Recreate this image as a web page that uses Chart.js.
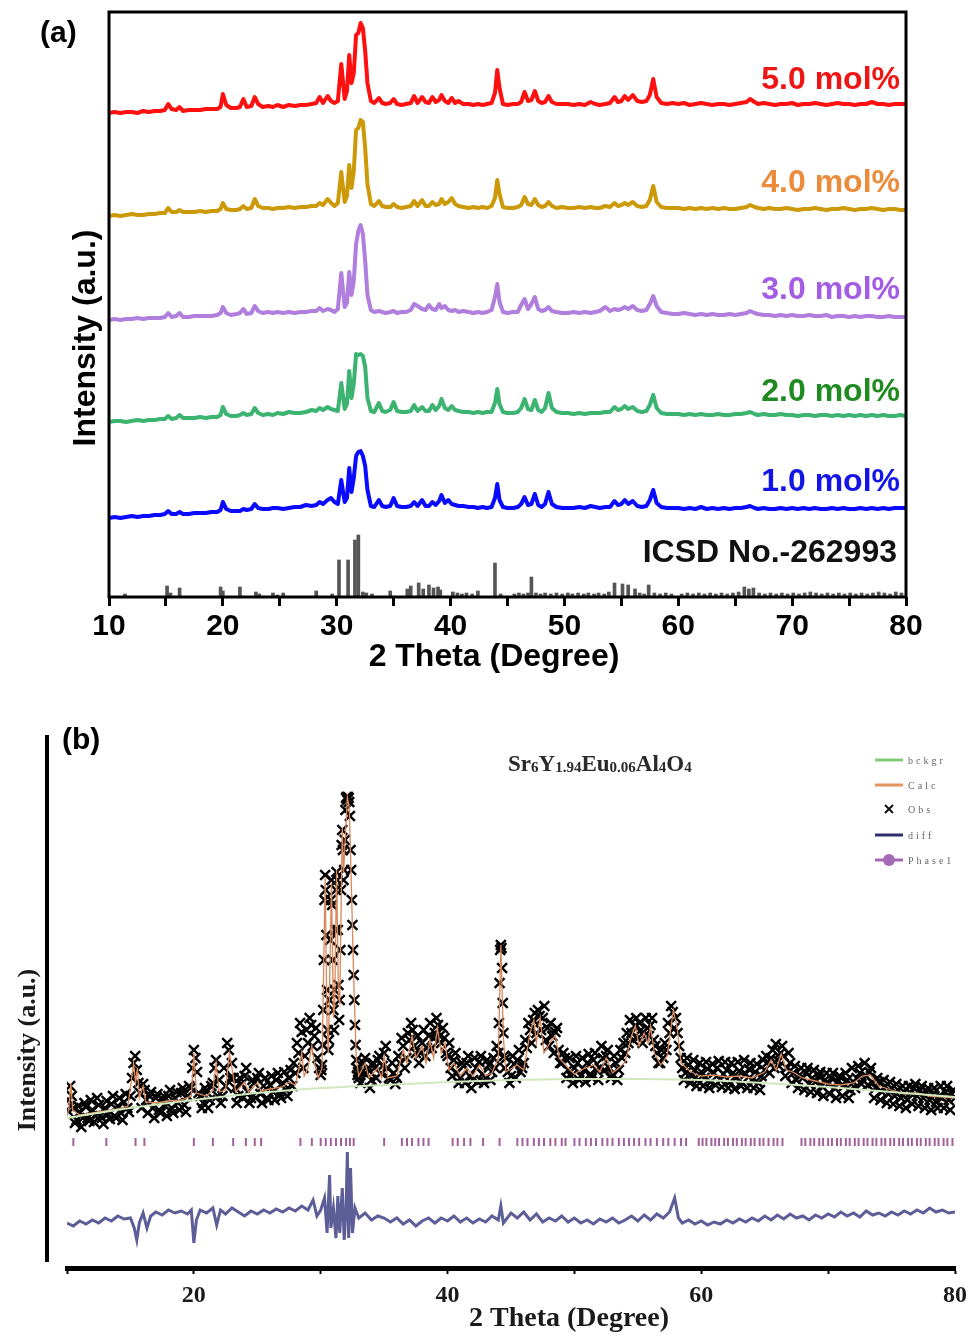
<!DOCTYPE html>
<html>
<head>
<meta charset="utf-8">
<script src="https://cdn.jsdelivr.net/npm/chart.js@4.4.1/dist/chart.umd.min.js"></script>
<style>
  html, body { margin: 0; padding: 0; background: #fff; }
  #page { position: relative; width: 978px; height: 1336px; overflow: hidden; }
  #page canvas { position: absolute; left: 0; }
  .tag { position: absolute; font: bold 30px 'Liberation Sans', Arial, sans-serif; color: #000; }
  .formula { position: absolute; left: 508px; top: 751px; font: bold 23px 'Liberation Serif', 'Times New Roman', serif; color: #2a2a2a; }
  .formula sub { font-size: 15px; vertical-align: -1px; }
</style>
</head>
<body>
<div id="page">
  <canvas id="xrd" width="978" height="690" style="top:0"></canvas>
  <canvas id="rietveld" width="978" height="646" style="top:690px"></canvas>
  <div class="tag" style="left:40px;top:15px">(a)</div>
  <div class="tag" style="left:62px;top:722px">(b)</div>
  <div class="formula">Sr<sub>6</sub>Y<sub>1.94</sub>Eu<sub>0.06</sub>Al<sub>4</sub>O<sub>4</sub></div>
</div>
<script>
// ---------- (a) XRD patterns of the Eu-doped series ----------
const twoTheta = [
  10,10.5,11,11.5,12,12.5,13,13.5,14,14.5,
  14.9,15.2,15.5,15.9,16.2,16.5,17,17.5,18,18.5,19,19.5,
  19.8,20.0,20.3,20.7,21.2,21.5,21.8,22.1,22.5,22.8,23.1,23.5,24,24.4,24.8,25.3,25.8,26.3,26.8,27.3,27.8,
  28.2,28.5,28.8,29.2,29.5,29.8,30.1,30.4,30.7,30.9,
  31.1,31.3,31.5,31.7,31.9,32.1,32.3,32.5,32.7,33.0,
  33.3,33.7,34.0,34.3,34.7,35.0,35.3,35.7,36.1,36.5,
  36.8,37.1,37.5,37.8,38.1,38.4,38.7,39.0,39.2,39.5,
  39.8,40.1,40.4,40.7,41.1,41.6,42.0,42.4,42.8,43.2,
  43.6,43.9,44.1,44.3,44.6,45.0,45.5,45.9,46.2,46.5,
  46.8,47.1,47.4,47.7,48.0,48.3,48.6,48.9,49.3,49.8,
  50.3,50.8,51.3,51.8,52.3,52.7,53.1,53.6,54.0,54.4,
  54.7,55.0,55.3,55.6,56.0,56.4,56.8,57.2,57.5,57.8,
  58.1,58.5,59.0,59.5,
  60,60.5,61,61.5,62,62.5,63,63.5,64,64.5,
  65,65.5,66,66.3,66.7,67,67.5,68,68.5,69,
  69.5,70,70.5,71,71.5,72,72.5,73,73.5,74,
  74.5,75,75.5,76,76.5,77,77.5,78,78.5,79,
  79.5,80
];

const mol1 = [
  0,1,0,1,2,1,2,2,3,3,
  4,7,4,4,6,4,4,5,5,5,6,6,
  8,16,9,7,7,7,9,8,9,14,10,9,9,10,10,9,10,11,11,13,12,
  13,16,14,18,20,16,14,38,16,20,
  50,26,40,62,66,67,62,52,28,12,
  11,18,12,11,12,20,12,11,11,12,
  16,12,18,12,12,16,13,17,23,15,
  18,14,13,12,12,11,11,10,11,10,
  11,20,34,18,11,10,10,11,14,21,
  13,14,24,13,11,14,26,14,11,10,
  10,10,11,10,12,11,10,11,11,17,
  13,14,18,14,17,12,11,12,18,28,
  15,11,10,10,
  10,9,10,9,11,9,10,9,10,9,
  10,10,11,12,10,9,10,9,9,10,
  9,10,9,10,9,10,9,9,10,9,
  10,9,9,10,9,10,9,10,9,10,
  10,10
];

const mol2 = [
  0,1,1,0,1,2,1,2,2,3,
  3,6,3,4,7,4,4,4,5,4,5,5,
  7,15,8,6,6,7,9,7,8,14,9,7,8,7,9,8,10,9,9,10,12,
  11,14,12,15,13,12,11,39,13,18,
  51,24,38,68,67,68,66,55,24,11,
  10,19,11,10,12,20,11,10,10,11,
  17,11,15,11,11,17,12,16,23,14,
  12,16,12,11,10,10,9,10,9,10,
  10,19,33,18,10,9,9,10,14,23,
  13,12,22,12,10,14,29,14,10,9,
  9,8,9,8,9,9,9,10,10,15,
  12,13,16,13,15,11,10,11,17,27,
  14,9,8,8,
  8,7,8,7,8,7,7,8,7,7,
  8,8,9,10,8,7,8,7,7,8,
  7,7,6,7,7,6,7,7,6,7,
  6,7,6,7,6,7,6,7,6,6,
  7,6
];

const mol3 = [
  1,2,1,2,2,3,2,3,3,3,
  4,8,4,5,8,4,4,5,5,5,5,6,
  8,14,8,6,7,8,12,7,8,15,10,8,9,8,9,8,9,8,9,9,10,
  10,13,10,12,11,9,12,48,14,18,
  49,26,40,77,90,96,87,60,26,11,
  9,10,9,8,9,10,8,9,9,11,
  17,15,12,11,16,12,11,17,13,15,
  11,10,11,9,10,9,8,9,8,9,
  11,24,37,19,9,8,9,9,16,22,
  12,17,24,12,10,11,14,10,9,8,
  8,9,8,9,8,9,10,14,10,12,
  11,12,14,12,15,11,10,11,17,25,
  15,9,8,7,
  7,8,7,6,7,6,7,6,6,7,
  6,7,8,10,8,7,6,6,5,6,
  5,6,5,5,6,5,5,6,4,5,
  5,4,5,4,5,5,4,4,5,4,
  4,4
];

const mol4 = [
  0,1,0,1,2,1,1,2,2,3,
  3,8,4,4,6,4,4,4,5,4,5,5,
  7,13,7,6,6,7,10,7,8,17,10,8,8,7,8,8,9,8,9,9,10,
  10,13,11,17,13,10,13,44,14,20,
  51,28,45,86,88,96,94,68,32,12,
  10,15,10,9,9,12,9,8,9,10,
  15,10,16,10,10,14,11,12,17,12,
  14,18,12,10,9,8,9,8,9,8,
  10,18,36,22,9,8,8,9,11,19,
  12,11,17,11,9,10,14,10,8,9,
  8,8,9,8,9,8,8,10,9,13,
  10,11,13,11,14,10,9,10,16,30,
  14,9,8,8,
  8,7,8,7,8,7,8,7,8,7,
  7,8,9,11,9,8,7,8,7,7,
  8,7,6,7,7,8,7,6,7,7,
  8,7,6,7,7,8,7,6,7,7,
  6,6
];

const mol5 = [
  0,1,0,1,1,0,2,1,2,2,
  3,9,4,3,6,2,3,3,3,4,4,4,
  6,19,8,5,5,6,14,6,7,16,9,6,7,6,8,6,8,7,8,8,9,
  10,16,10,17,12,10,12,49,14,22,
  58,30,40,78,80,90,85,62,30,12,
  10,15,10,9,10,14,9,8,9,10,
  17,10,16,11,10,16,11,13,18,12,
  10,15,10,12,9,9,8,9,8,9,
  10,20,43,25,9,8,9,9,11,21,
  12,13,22,12,10,11,17,11,9,9,
  9,8,9,8,11,9,8,9,10,16,
  11,12,17,13,18,12,11,12,18,34,
  16,10,9,10,
  9,10,8,9,10,9,8,9,9,8,
  9,10,11,14,11,9,10,9,8,9,
  9,10,8,9,9,10,9,8,9,10,
  9,9,8,9,9,11,9,9,8,9,
  9,9
];

const seriesNames = ['1.0 mol%', '2.0 mol%', '3.0 mol%', '4.0 mol%', '5.0 mol%'];
const stackOffsets = [79, 175, 276, 381, 484];

// reference pattern: [2θ, relative intensity]
const icsdSticks = [
  [11.4,3],[15.1,11],[15.4,4],[16.2,9],[19.8,10],[20.0,6],[21.5,10],[22.9,5],[23.2,3],[24.4,4],
  [24.8,2],[25.3,4],[28.2,6],[29.6,3],[30.2,37],[31.0,37],[31.6,57],[31.9,62],[32.3,5],[32.6,4],
  [33.1,3],[34.7,6],[36.2,8],[36.5,11],[37.2,14],[37.6,8],[38.1,12],[38.5,9],[38.9,10],[39.1,7],
  [40.2,5],[40.6,4],[41.0,3],[41.4,4],[41.9,3],[42.4,6],[43.9,34],[44.4,3],[45.6,3],[46.0,4],
  [46.4,3],[46.8,4],[47.1,20],[47.5,4],[47.9,3],[48.3,4],[48.8,3],[49.3,4],[49.8,3],[50.3,4],
  [50.7,3],[51.2,4],[51.7,3],[52.1,4],[52.6,3],[53.0,4],[53.5,3],[53.9,5],[54.4,14],[55.1,13],
  [55.6,12],[56.2,8],[56.6,4],[57.0,3],[57.4,12],[57.9,4],[58.4,3],[58.9,4],[59.4,3],[60.3,3],
  [60.8,4],[61.3,3],[61.8,4],[62.3,3],[62.8,4],[63.3,3],[63.8,4],[64.3,3],[64.8,4],[65.3,5],
  [65.8,10],[66.2,8],[66.6,9],[67.1,4],[67.6,3],[68.1,4],[68.6,3],[69.1,4],[69.6,3],[70.1,4],
  [70.6,3],[71.1,4],[71.6,5],[72.1,4],[72.6,3],[73.1,4],[73.6,3],[74.1,4],[74.6,3],[75.1,4],
  [75.6,3],[76.1,4],[76.6,3],[77.1,4],[77.6,5],[78.1,4],[78.6,3],[79.1,5],[79.6,4]
];
const icsdName = 'ICSD No.-262993';

const xTicksA = [10, 20, 30, 40, 50, 60, 70, 80];

// ---------- (b) Rietveld refinement ----------
const obsTheta = [
  10,10.25,10.5,10.75,11,11.25,11.5,11.75,12,12.25,12.5,12.75,13,13.25,13.5,13.75,14,14.25,14.5,14.75,
  15,15.25,15.5,15.75,16,16.25,16.5,16.75,17,17.25,17.5,17.75,18,18.25,18.5,18.75,19,19.25,19.5,19.75,
  20,20.25,20.5,20.75,21,21.25,21.5,21.75,22,22.25,22.5,22.75,23,23.25,23.5,23.75,24,24.25,24.5,24.75,
  25,25.25,25.5,25.75,26,26.25,26.5,26.75,27,27.25,27.5,27.75,28,28.25,28.5,28.75,29,29.25,29.5,29.75,
  30,30.05,30.1,30.15,30.2,30.25,30.3,30.35,30.4,30.45,30.5,30.55,30.6,30.65,30.7,30.75,30.8,30.85,30.9,30.95,
  31,31.05,31.1,31.15,31.2,31.25,31.3,31.35,31.4,31.45,31.5,31.55,31.6,31.65,31.7,31.75,31.8,31.85,31.9,31.95,
  32,32.05,32.1,32.15,32.2,32.25,32.3,32.35,32.4,32.45,32.5,32.55,32.6,32.65,32.7,32.75,32.8,32.85,32.9,32.95,
  33,33.25,33.5,33.75,34,34.25,34.5,34.75,35,35.25,35.5,35.75,36,36.25,36.5,36.75,37,37.25,37.5,37.75,
  38,38.25,38.5,38.75,39,39.25,39.5,39.75,40,40.25,40.5,40.75,41,41.25,41.5,41.75,42,42.25,42.5,42.75,
  43,43.25,43.5,43.75,44,44.05,44.1,44.15,44.2,44.25,44.3,44.35,44.4,44.45,44.5,44.75,
  45,45.25,45.5,45.75,46,46.25,46.5,46.75,47,47.25,47.5,47.75,48,48.25,48.5,48.75,49,49.25,49.5,49.75,
  50,50.25,50.5,50.75,51,51.25,51.5,51.75,52,52.25,52.5,52.75,53,53.25,53.5,53.75,54,54.25,54.5,54.75,
  55,55.25,55.5,55.75,56,56.25,56.5,56.75,57,57.25,57.5,57.75,58,58.25,58.5,58.75,59,59.25,59.5,59.75,
  60,60.25,60.5,60.75,61,61.25,61.5,61.75,62,62.25,62.5,62.75,63,63.25,63.5,63.75,64,64.25,64.5,64.75,
  65,65.25,65.5,65.75,66,66.25,66.5,66.75,67,67.25,67.5,67.75,68,68.25,68.5,68.75,69,69.25,69.5,69.75,
  70,70.25,70.5,70.75,71,71.25,71.5,71.75,72,72.25,72.5,72.75,73,73.25,73.5,73.75,74,74.25,74.5,74.75,
  75,75.25,75.5,75.75,76,76.25,76.5,76.75,77,77.25,77.5,77.75,78,78.25,78.5,78.75,79,79.25,79.5,79.75,
  80
];

const obsCounts = [
  158,182,160,148,156,150,161,147,158,152,163,150,160,154,164,152,162,155,166,160,
  172,205,198,175,184,168,172,160,170,158,168,162,172,160,170,165,175,163,172,180,
  218,196,172,165,176,168,185,208,188,172,182,218,205,180,172,184,192,176,170,185,
  190,174,182,170,183,176,188,174,185,178,190,182,195,215,236,212,225,243,232,210,
  193,198,203,223,258,308,368,393,378,333,278,238,218,228,268,328,368,388,363,308,
  258,238,278,338,378,396,388,338,283,248,268,318,378,423,438,418,388,398,428,458,
  470,471,468,471,470,466,452,418,398,368,343,318,293,268,243,223,208,200,193,196,
  190,196,210,198,188,200,208,195,215,200,188,195,190,205,222,210,228,238,215,205,
  225,212,232,220,235,243,225,230,212,200,208,195,190,202,205,192,188,200,206,194,
  190,203,196,200,215,245,285,318,323,320,300,265,235,212,200,196,
  192,204,208,196,205,220,238,248,235,252,250,228,222,232,236,218,205,210,198,192,
  200,205,192,198,205,194,208,198,200,210,212,200,194,205,198,210,215,225,235,242,
  230,238,232,240,243,228,215,205,210,218,235,256,250,222,200,195,203,192,198,188,
  196,190,199,186,195,200,188,194,198,186,195,190,197,185,194,199,188,196,185,192,
  198,206,210,200,208,215,212,200,205,195,188,193,190,195,184,190,186,192,182,188,
  184,190,180,186,191,182,188,178,186,190,195,188,192,196,185,180,186,176,182,174,
  180,172,178,170,176,168,175,180,172,178,170,176,168,174,166,172,170,176,168,174,
  170
];

// the intermediate scan steps between the ones above
const obsThetaMid = [
  10.125,10.375,10.625,10.875,11.125,11.375,11.625,11.875,12.125,12.375,12.625,12.875,13.125,13.375,13.625,13.875,14.125,14.375,14.625,14.875,
  15.125,15.375,15.625,15.875,16.125,16.375,16.625,16.875,17.125,17.375,17.625,17.875,18.125,18.375,18.625,18.875,19.125,19.375,19.625,19.875,
  20.125,20.375,20.625,20.875,21.125,21.375,21.625,21.875,22.125,22.375,22.625,22.875,23.125,23.375,23.625,23.875,24.125,24.375,24.625,24.875,
  25.125,25.375,25.625,25.875,26.125,26.375,26.625,26.875,27.125,27.375,27.625,27.875,28.125,28.375,28.625,28.875,29.125,29.375,29.625,29.875,
  33.125,33.375,33.625,33.875,34.125,34.375,34.625,34.875,35.125,35.375,35.625,35.875,36.125,36.375,36.625,36.875,37.125,37.375,37.625,37.875,
  38.125,38.375,38.625,38.875,39.125,39.375,39.625,39.875,40.125,40.375,40.625,40.875,41.125,41.375,41.625,41.875,42.125,42.375,42.625,42.875,
  43.125,43.375,43.625,43.875,44.625,44.875,
  45.125,45.375,45.625,45.875,46.125,46.375,46.625,46.875,47.125,47.375,47.625,47.875,48.125,48.375,48.625,48.875,49.125,49.375,49.625,49.875,
  50.125,50.375,50.625,50.875,51.125,51.375,51.625,51.875,52.125,52.375,52.625,52.875,53.125,53.375,53.625,53.875,54.125,54.375,54.625,54.875,
  55.125,55.375,55.625,55.875,56.125,56.375,56.625,56.875,57.125,57.375,57.625,57.875,58.125,58.375,58.625,58.875,59.125,59.375,59.625,59.875,
  60.125,60.375,60.625,60.875,61.125,61.375,61.625,61.875,62.125,62.375,62.625,62.875,63.125,63.375,63.625,63.875,64.125,64.375,64.625,64.875,
  65.125,65.375,65.625,65.875,66.125,66.375,66.625,66.875,67.125,67.375,67.625,67.875,68.125,68.375,68.625,68.875,69.125,69.375,69.625,69.875,
  70.125,70.375,70.625,70.875,71.125,71.375,71.625,71.875,72.125,72.375,72.625,72.875,73.125,73.375,73.625,73.875,74.125,74.375,74.625,74.875,
  75.125,75.375,75.625,75.875,76.125,76.375,76.625,76.875,77.125,77.375,77.625,77.875,78.125,78.375,78.625,78.875,79.125,79.375,79.625,79.875
];

const obsCountsMid = [
  168,172,145,162,141,165,150,168,146,170,152,144,167,149,172,150,170,148,174,156,
  190,212,185,160,178,155,176,150,174,155,172,152,178,155,176,158,180,156,182,200,
  210,175,160,180,160,182,200,172,165,200,225,190,190,165,190,170,200,165,188,170,
  195,165,190,168,192,168,195,170,196,172,198,205,225,245,200,238,250,222,240,200,
  185,205,194,180,205,190,212,202,222,190,205,184,212,230,200,235,245,222,232,215,
  238,220,245,230,250,232,240,215,225,192,215,185,205,185,212,180,210,186,212,185,
  208,188,210,222,210,185,
  212,190,218,200,228,245,225,255,258,238,262,240,245,215,240,205,215,190,210,185,
  212,188,210,186,214,190,215,188,222,198,218,190,212,188,218,225,235,248,228,250,
  245,225,250,232,250,222,205,218,225,245,262,240,235,210,188,210,185,208,182,205,
  182,206,180,204,183,207,181,206,180,205,179,206,182,208,180,205,180,204,178,208,
  212,195,218,224,202,222,192,215,185,202,180,200,178,200,176,198,175,196,172,195,
  174,195,170,192,172,195,170,200,180,202,184,205,183,200,170,190,168,188,165,186,
  164,184,162,182,160,182,164,184,162,182,160,180,158,180,160,182,160,182,158,178
];

const calcCurve = [
  [10,152],[10.15,160],[10.3,185],[10.45,158],[11,153],[12,155],[13,157],[14,159],[14.8,162],[15.1,190],
  [15.25,205],[15.4,185],[15.55,200],[15.7,170],[16.0,182],[16.2,166],[17,165],[18,167],[19,168],[19.8,172],
  [20.0,215],[20.2,175],[21,172],[21.5,178],[21.75,205],[22.0,176],[22.5,178],[22.8,215],[23.0,200],[23.3,176],
  [24.0,186],[24.3,176],[25.0,185],[25.3,177],[26,179],[27,181],[27.5,186],[28.0,183],[28.3,200],[28.5,215],
  [28.7,192],[29.0,200],[29.3,222],[29.5,205],[29.8,190],[30.1,200],[30.35,390],[30.5,240],[30.6,215],[30.85,385],
  [31.0,250],[31.1,262],[31.25,398],[31.4,270],[31.5,265],[31.7,440],[31.8,395],[31.9,420],[32.1,471],[32.25,460],
  [32.4,390],[32.6,290],[32.8,210],[33.0,192],[33.5,205],[33.8,190],[34.5,200],[34.8,190],[35.0,212],[35.3,190],
  [36.0,192],[36.5,218],[36.8,205],[37.2,232],[37.5,210],[38.0,222],[38.3,205],[38.6,228],[38.9,210],[39.2,240],
  [39.5,215],[39.8,225],[40.1,198],[40.5,205],[41,192],[41.5,200],[42,192],[42.5,203],[43,192],[43.5,195],
  [44.0,210],[44.2,323],[44.4,230],[44.6,196],[45.5,203],[46,198],[46.5,235],[46.8,248],[47.0,225],[47.3,250],
  [47.6,215],[48.2,228],[48.5,232],[48.8,210],[49.5,200],[50,194],[50.5,198],[51.5,203],[52,196],[52.5,210],
  [53,195],[53.5,200],[54,206],[54.5,232],[54.8,242],[55.1,222],[55.5,235],[55.8,225],[56.0,242],[56.3,215],
  [56.8,203],[57.3,212],[57.8,258],[58.1,240],[58.4,205],[59,198],[59.5,194],[60,192],[61,193],[62,191],
  [63,192],[64,190],[65,196],[65.5,208],[65.9,198],[66.3,214],[66.7,198],[67.2,196],[68,190],[69,187],
  [70,184],[71,183],[72,185],[72.7,192],[73.3,193],[74,182],[75,178],[76,174],[77,175],[78,172],
  [79,171],[80,170]
];

const backgroundCurve = [
  [10,150],[15,160],[20,168],[25,175],[30,180],[35,183],[40,186],[45,188],
  [50,189],[55,189],[60,188],[65,185],[70,181],[75,176],[80,171]
];

const diffCurve = [
  [10,45],[10.5,42],[11,47],[11.5,44],[12,48],[12.5,45],[13,50],[13.5,47],[14,52],[14.5,49],
  [15,50],[15.3,40],[15.5,28],[15.7,45],[16,55],[16.3,40],[16.6,52],[17,56],[17.5,53],[18,58],
  [18.5,55],[19,57],[19.5,54],[19.8,58],[20.0,25],[20.2,48],[20.5,58],[21,55],[21.5,60],[21.8,43],
  [22.1,58],[22.5,54],[23,60],[23.5,56],[24,52],[24.5,57],[25,54],[25.5,58],[26,55],[26.5,59],
  [27,56],[27.5,60],[28,57],[28.5,62],[29,58],[29.4,68],[29.7,52],[30.0,58],[30.3,70],[30.5,35],
  [30.7,93],[30.8,40],[31.0,60],[31.2,30],[31.35,72],[31.5,35],[31.7,80],[31.85,28],[32.0,60],[32.1,116],
  [32.2,30],[32.35,100],[32.5,35],[32.7,60],[33,50],[33.5,55],[34,48],[34.5,52],[35,50],[35.5,46],
  [36,50],[36.5,44],[37,48],[37.5,42],[38,47],[38.5,50],[39,45],[39.5,50],[40,47],[40.5,52],
  [41,46],[41.5,50],[42,45],[42.5,49],[43,46],[43.5,52],[44,48],[44.2,62],[44.4,45],[45,55],
  [45.5,50],[46,56],[46.5,48],[47,54],[47.5,46],[48,50],[48.5,47],[49,52],[49.5,46],[50,50],
  [50.5,45],[51,48],[51.5,44],[52,49],[52.5,46],[53,50],[53.5,45],[54,48],[54.5,52],[55,47],
  [55.5,53],[56,48],[56.5,54],[57,50],[57.5,56],[57.9,70],[58.2,50],[58.5,45],[59,48],[59.5,44],
  [60,47],[60.5,43],[61,46],[61.5,44],[62,48],[62.5,45],[63,49],[63.5,46],[64,50],[64.5,47],
  [65,52],[65.5,48],[66,53],[66.5,49],[67,54],[67.5,50],[68,52],[68.5,48],[69,53],[69.5,50],
  [70,54],[70.5,51],[71,56],[71.5,52],[72,55],[72.5,51],[73,57],[73.5,53],[74,55],[74.5,52],
  [75,56],[75.5,53],[76,57],[76.5,54],[77,58],[77.5,55],[78,60],[78.5,56],[79,58],[79.5,55],
  [80,56]
];

// Bragg positions of Phase1
const phaseReflections = [
  10.5,13.1,15.4,16.1,20.0,21.5,23.1,24.1,24.8,25.3,28.4,29.3,30.0,30.4,30.8,31.2,31.6,32.0,32.3,32.6,
  35.0,36.4,36.8,37.2,37.7,38.1,38.5,40.4,40.8,41.3,41.8,42.8,44.1,45.5,45.9,46.3,46.8,47.2,47.6,48.1,
  48.5,49.0,49.3,50.0,50.4,50.9,51.3,51.7,52.2,52.6,53.0,53.5,53.9,54.3,54.7,55.1,55.6,56.0,56.5,57.0,
  57.4,57.9,58.4,58.8,59.8,60.1,60.4,60.8,61.1,61.4,61.8,62.1,62.5,62.8,63.2,63.5,63.9,64.2,64.6,64.9,
  65.3,65.7,66.0,66.4,67.9,68.2,68.6,68.9,69.3,69.6,70.0,70.3,70.7,71.0,71.4,71.7,72.1,72.4,72.8,73.1,
  73.5,73.8,74.2,74.5,74.9,75.2,75.6,75.9,76.3,76.6,77.0,77.3,77.7,78.0,78.4,78.7,79.1,79.4,79.8
];
const phaseTickLevel = 126;

const legendRows = ['bckgr', 'Calc', 'Obs', 'diff', 'Phase1'];

// ---------- shared setup ----------
Chart.defaults.font.family = "'Liberation Sans', Arial, sans-serif";
Chart.defaults.animation = false;
Chart.defaults.plugins.legend.display = false;
Chart.defaults.plugins.tooltip.enabled = false;
Chart.defaults.events = [];

const lineColors = ['#0a0aff', '#3cb371', '#b07edd', '#cc9a08', '#ff1010'];
const nameColors = ['#1414e6', '#1f8a1f', '#a35ce4', '#ea8c3c', '#ee1515'];
const nameLevels = [115, 205, 307, 414, 517];

// frame, series names and axis titles for panel (a)
const panelADecor = {
  id: 'panelADecor',
  afterDraw(chart) {
    const { ctx, chartArea: a, scales } = chart;
    ctx.save();
    ctx.strokeStyle = '#000';
    ctx.lineWidth = 3;
    ctx.strokeRect(a.left, a.top, a.right - a.left, a.bottom - a.top);

    ctx.font = "bold 32px 'Liberation Sans', Arial, sans-serif";
    ctx.textAlign = 'right';
    ctx.textBaseline = 'middle';
    seriesNames.forEach((name, i) => {
      ctx.fillStyle = nameColors[i];
      ctx.fillText(name, a.right - 6, scales.y.getPixelForValue(nameLevels[i]));
    });
    ctx.fillStyle = '#111';
    ctx.fillText(icsdName, a.right - 9, scales.y.getPixelForValue(44));

    ctx.fillStyle = '#000';
    ctx.textAlign = 'center';
    ctx.font = "bold 32px 'Liberation Sans', Arial, sans-serif";
    ctx.fillText('2 Theta (Degree)', 494, 657);
    ctx.translate(86, 338);
    ctx.rotate(-Math.PI / 2);
    ctx.fillText('Intensity (a.u.)', 0, 0);
    ctx.restore();
  }
};

const xrdDatasets = [mol1, mol2, mol3, mol4, mol5].map((vals, i) => ({
  type: 'line',
  data: vals.map((v, j) => ({ x: twoTheta[j], y: v + stackOffsets[i] })),
  borderColor: lineColors[i],
  borderWidth: 4,
  borderJoinStyle: 'round',
  borderCapStyle: 'round',
  pointRadius: 0,
  tension: 0
}));
xrdDatasets.push({
  type: 'bar',
  data: icsdSticks.map(([x, h]) => ({ x, y: h })),
  backgroundColor: '#555',
  barThickness: 3,
  grouped: false
});

new Chart(document.getElementById('xrd'), {
  type: 'line',
  data: { datasets: xrdDatasets },
  options: {
    responsive: false,
    devicePixelRatio: 1,
    layout: { padding: { left: 0, right: 72, top: 12, bottom: 0 } },
    scales: {
      x: {
        type: 'linear', min: 10, max: 80, offset: false,
        ticks: {
          stepSize: 5, autoSkip: false, maxRotation: 0, padding: 3,
          color: '#000', font: { size: 30, weight: 'bold' },
          callback: v => (xTicksA.includes(v) ? String(v) : '')
        },
        grid: { display: true, offset: false, drawOnChartArea: false, drawTicks: true, tickLength: 9, tickWidth: 3, tickColor: '#000' },
        border: { display: false },
        afterFit: s => { s.height = 93; }
      },
      y: {
        min: 0, max: 585,
        ticks: { display: false },
        grid: { display: false },
        border: { display: false },
        afterFit: s => { s.width = 109; }
      }
    }
  },
  plugins: [panelADecor]
});

// axis lines, titles and key for panel (b)
const panelBDecor = {
  id: 'panelBDecor',
  afterDraw(chart) {
    const { ctx, chartArea: a } = chart;
    ctx.save();
    ctx.fillStyle = '#000';
    ctx.fillRect(a.left - 22, a.top, 4, a.bottom - a.top - 6);

    ctx.textAlign = 'center';
    ctx.textBaseline = 'middle';
    ctx.fillStyle = '#1a1a1a';
    ctx.font = "bold 28px 'Liberation Serif', 'Times New Roman', serif";
    ctx.fillText('2 Theta (Degree)', 569, 629);
    ctx.save();
    ctx.translate(28, 360);
    ctx.rotate(-Math.PI / 2);
    ctx.font = "bold 26px 'Liberation Serif', 'Times New Roman', serif";
    ctx.fillText('Intensity (a.u.)', 0, 0);
    ctx.restore();

    // key
    const x0 = 875, x1 = 903, ys = [70, 95, 119, 145, 170];
    const keyColors = ['#86c97a', '#e3955e', '#111', '#2e2e6e', '#a46ab5'];
    ctx.textAlign = 'left';
    ctx.font = "10px 'Liberation Serif', 'Times New Roman', serif";
    ctx.letterSpacing = '3px';
    legendRows.forEach((label, i) => {
      const y = ys[i];
      ctx.strokeStyle = keyColors[i];
      ctx.fillStyle = keyColors[i];
      if (label === 'Obs') {
        ctx.lineWidth = 2;
        ctx.beginPath();
        ctx.moveTo(885, y - 4); ctx.lineTo(893, y + 4);
        ctx.moveTo(893, y - 4); ctx.lineTo(885, y + 4);
        ctx.stroke();
      } else {
        ctx.lineWidth = 3;
        ctx.beginPath();
        ctx.moveTo(x0, y); ctx.lineTo(x1, y);
        ctx.stroke();
        if (label === 'Phase1') {
          ctx.beginPath();
          ctx.arc(889, y, 6, 0, Math.PI * 2);
          ctx.fill();
        }
      }
      ctx.fillStyle = '#666';
      ctx.fillText(label, 908, y + 1);
    });
    ctx.restore();
  }
};

const obsPoints = obsCounts.map((y, j) => ({ x: obsTheta[j], y }))
  .concat(obsCountsMid.map((y, j) => ({ x: obsThetaMid[j], y })))
  .sort((p, q) => p.x - q.x);

new Chart(document.getElementById('rietveld'), {
  type: 'line',
  data: {
    datasets: [
      {
        label: 'bckgr',
        data: backgroundCurve.map(([x, y]) => ({ x, y })),
        borderColor: '#cfe8bd', borderWidth: 2, pointRadius: 0, tension: 0.3
      },
      {
        label: 'Calc',
        data: calcCurve.map(([x, y]) => ({ x, y })),
        borderColor: '#d8885a', borderWidth: 1.3, pointRadius: 0, tension: 0
      },
      {
        label: 'Phase1',
        data: phaseReflections.map(x => ({ x, y: phaseTickLevel })),
        showLine: false, pointStyle: 'line', rotation: 90, pointRadius: 4,
        borderColor: '#a2609a', borderWidth: 2
      },
      {
        label: 'diff',
        data: diffCurve.map(([x, y]) => ({ x, y })),
        borderColor: '#5d5d98', borderWidth: 3, pointRadius: 0, tension: 0
      },
      {
        label: 'Obs',
        data: obsPoints,
        showLine: false, pointStyle: 'crossRot', pointRadius: 7,
        borderColor: '#000', borderWidth: 2.4
      }
    ]
  },
  options: {
    responsive: false,
    devicePixelRatio: 1,
    layout: { padding: { left: 0, right: 23, top: 45, bottom: 0 } },
    scales: {
      x: {
        type: 'linear', min: 10, max: 80, offset: false,
        ticks: {
          stepSize: 10, autoSkip: false, maxRotation: 0, padding: 7,
          color: '#1a1a1a',
          font: { family: "'Liberation Serif', 'Times New Roman', serif", size: 24, weight: 'bold' },
          callback: v => (v % 20 === 0 ? String(v) : '')
        },
        grid: { display: true, drawOnChartArea: false, drawTicks: true, tickLength: 6, tickWidth: 2, tickColor: '#000' },
        border: { display: true, width: 5, color: '#000' },
        afterFit: s => { s.height = 68; }
      },
      y: {
        min: 0, max: 533,
        ticks: { display: false },
        grid: { display: false },
        border: { display: false },
        afterFit: s => { s.width = 67; }
      }
    }
  },
  plugins: [panelBDecor]
});
</script>
</body>
</html>
